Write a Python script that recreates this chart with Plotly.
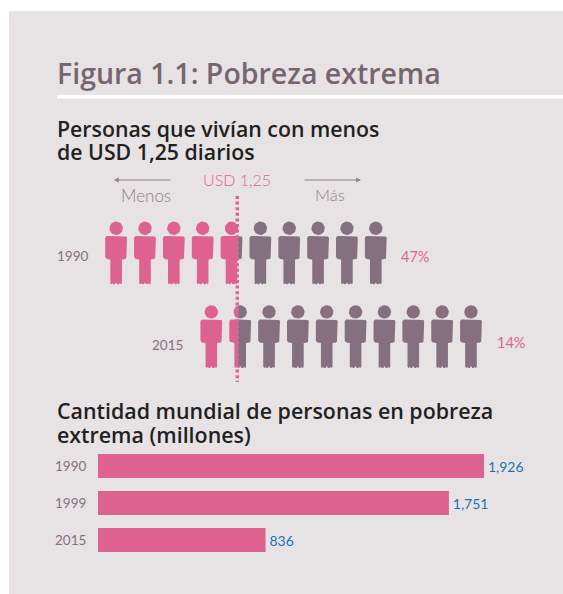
import math
import plotly.graph_objects as go

W, H = 563, 594
BG = "#e7e3e5"
PINK = "#de628f"
MAUVE = "#84707e"
LABEL = "#84707e"
TITLE = "#766570"
DARK = "#231f20"
BLUE = "#1b72b5"
SOFT = "#8f7f8a"

# ---- data ----
years_people = ["1990", "2015"]
share_below = [47, 14]
people_per_row = 10
years_bars = ["1990", "1999", "2015"]
millions = [1926, 1751, 836]

# ---- layout in pixels ----
PITCH = 28.85
LINE_X = 237.3
ROW_TOP = [221.7, 305.3]


def px(v):
    return v / W


def py(v):
    return 1 - v / H


def clip(poly, side):
    """Clip a polygon at x = 0, keeping the left or the right part."""
    keep = (lambda p: p[0] <= 0) if side == "left" else (lambda p: p[0] >= 0)
    out = []
    for i, a in enumerate(poly):
        b = poly[(i + 1) % len(poly)]
        if keep(a):
            out.append(a)
        if keep(a) != keep(b):
            t = a[0] / (a[0] - b[0])
            out.append((0.0, a[1] + t * (b[1] - a[1])))
    return out


def person(cx_units, top):
    """Polygons of one figure; x in person units, y in pixels."""
    u = 1 / PITCH
    head = [(cx_units + 6.7 * u * math.cos(k * math.pi / 12), top + 6.6 + 6.7 * math.sin(k * math.pi / 12)) for k in range(24)]
    t = [(-9, 14.3), (9, 14.3), (10, 14.8), (10.9, 16), (10.9, 35), (10.2, 36.5), (9, 37.3), (5.8, 37.8),
         (5.8, 61.5), (4.8, 62.6), (3.6, 61.6), (2.6, 62.6), (1.2, 62.6), (0, 60.8), (-1.2, 62.6),
         (-2.6, 62.6), (-3.6, 61.6), (-4.8, 62.6), (-5.8, 61.5), (-5.8, 37.8), (-9, 37.3), (-10.2, 36.5),
         (-10.9, 35), (-10.9, 16), (-10, 14.8)]
    body = [(cx_units + x * u, top + y) for x, y in t]
    return [head, body]


def add_polys(fig, polys, color):
    xs, ys = [], []
    for poly in polys:
        if len(poly) < 3:
            continue
        xs += [p[0] for p in poly] + [poly[0][0], None]
        ys += [p[1] for p in poly] + [poly[0][1], None]
    fig.add_trace(go.Scatter(x=xs, y=ys, mode="lines", fill="toself", fillcolor=color,
                             line=dict(width=0, color=color), hoverinfo="skip", showlegend=False,
                             xaxis="x", yaxis="y"))


fig = go.Figure()

left_parts, right_parts = [], []
for share, top in zip(share_below, ROW_TOP):
    start = -share / 100 * people_per_row
    for i in range(people_per_row):
        for poly in person(start + i + 0.5, top):
            left_parts.append(clip(poly, "left"))
            right_parts.append(clip(poly, "right"))
add_polys(fig, left_parts, PINK)
add_polys(fig, right_parts, MAUVE)

# poverty line
fig.add_trace(go.Scatter(x=[0, 0], y=[196, 382], mode="lines",
                         line=dict(color=PINK, width=3.4, dash="3px,2.6px"),
                         hoverinfo="skip", showlegend=False, xaxis="x", yaxis="y"))

# bars
fig.add_trace(go.Bar(x=millions, y=years_bars, orientation="h", marker=dict(color=PINK, line=dict(width=0)),
                     texttemplate="\u200a%{x:,}", textposition="outside", cliponaxis=False,
                     textfont=dict(color=BLUE, size=14, family="Lato"),
                     hoverinfo="skip", showlegend=False, xaxis="x2", yaxis="y2"))

fig.update_layout(
    width=W, height=H, margin=dict(l=0, r=0, t=0, b=0),
    paper_bgcolor="white", plot_bgcolor="rgba(0,0,0,0)", bargap=0.351,
    separators=".,",
    xaxis=dict(domain=[0, 1], range=[-LINE_X / PITCH, (W - LINE_X) / PITCH], visible=False, fixedrange=True),
    yaxis=dict(domain=[0, 1], range=[H, 0], visible=False, fixedrange=True),
    xaxis2=dict(domain=[px(98), px(98 + 420)], range=[0, 420 / 386 * 1926], visible=False, fixedrange=True,
                anchor="y2"),
    yaxis2=dict(domain=[py(558.5), py(447.5)], autorange=False, range=[2.5, -0.5], type="category",
                anchor="x2", showline=False, showgrid=False, zeroline=False,
                ticks="outside", ticklen=8, tickcolor="rgba(0,0,0,0)",
                tickfont=dict(family="Lato", size=13.5, color=LABEL), fixedrange=True),
    shapes=[
        dict(type="rect", xref="paper", yref="paper", x0=px(9), x1=1, y0=0, y1=py(11),
             fillcolor=BG, line=dict(width=0), layer="below"),
        dict(type="rect", xref="paper", yref="paper", x0=px(57), x1=1, y0=py(98.5), y1=py(95),
             fillcolor="white", line=dict(width=0), layer="below"),
    ],
)


def text(x, y, s, size, color, family="Open Sans", anchor="left", weight=None):
    font = dict(family=family, size=size, color=color)
    if weight:
        font["weight"] = weight
    fig.add_annotation(xref="paper", yref="paper", x=px(x), y=py(y), text=s, showarrow=False,
                       xanchor=anchor, yanchor="middle", font=font, borderpad=0, borderwidth=0,
                       align="left")


text(57, 73, "Figura 1.1: Pobreza extrema", 28.5, TITLE, weight=600)
text(57, 129, "Personas que vivían con menos", 21.3, DARK, weight=600)
text(57, 152, "de USD 1,25 diarios", 21.3, DARK, weight=600)
text(57, 410, "Cantidad mundial de personas en pobreza", 21.4, DARK, weight=600)
text(57, 434, "extrema (millones)", 21.4, DARK, weight=600)

text(145.5, 195, "Menos", 17, SOFT, "Lato", "center", 300)
text(329.5, 195, "Más", 16.5, SOFT, "Lato", "center", 300)
text(237, 180, "USD 1,25", 16, PINK, "Lato", "center", 300)

text(87.5, 256, years_people[0], 13.5, LABEL, "Lato", "right")
text(183, 345, years_people[1], 13.5, LABEL, "Lato", "right")
for x, y, s in [(401, 256, share_below[0]), (497, 342, share_below[1])]:
    text(x, y, f"{s}%", 14.5, PINK, "Lato")

for x0, x1 in [(172, 114), (303, 361)]:
    fig.add_annotation(xref="paper", yref="paper", axref="pixel", ayref="pixel",
                       x=px(x1), y=py(180), ax=x0 - x1, ay=0, text="", showarrow=True,
                       arrowhead=2, arrowsize=0.8, arrowwidth=1.2, arrowcolor=SOFT)

fig.write_html("out.html", config=dict(displayModeBar=False),
               post_script="document.body.style.margin='0';document.documentElement.style.overflow='hidden';")
